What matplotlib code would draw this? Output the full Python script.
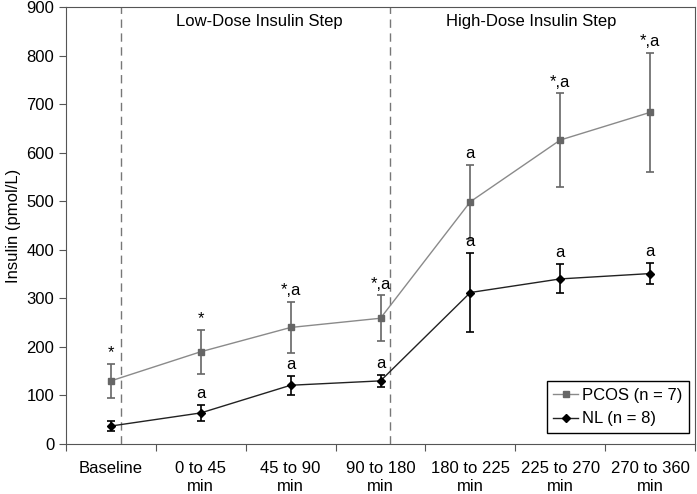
import matplotlib
matplotlib.use("Agg")
import matplotlib.pyplot as plt
from matplotlib.lines import Line2D
import numpy as np

plt.rcParams["font.family"] = ["Liberation Sans", "DejaVu Sans"]

categories = ["Baseline", "0 to 45\nmin", "45 to 90\nmin", "90 to 180\nmin",
              "180 to 225\nmin", "225 to 270\nmin", "270 to 360\nmin"]
pcos_mean = [130, 190, 240, 259, 499, 626, 683]
pcos_err = [35, 45, 53, 47, 76, 96, 123]
nl_mean = [37, 64, 121, 130, 312, 340, 351]
nl_err = [11, 16, 20, 12, 82, 30, 22]
pcos_marks = ["*", "*", "*,a", "*,a", "a", "*,a", "*,a"]
nl_marks = ["", "a", "a", "a", "a", "a", "a"]
step_lines = [0.11, 3.11]

x = np.arange(len(categories))

fig = plt.figure(figsize=(6.97, 4.94), dpi=100)
ax = fig.add_axes([66 / 697, 50 / 494, 629 / 697, 437 / 494])

ax.errorbar(x, pcos_mean, yerr=pcos_err, color="#8a8a8a", lw=1.0,
            marker="s", ms=5, mfc="#666666", mec="#666666",
            ecolor="#666666", elinewidth=1.2, capsize=3, capthick=1.2,
            zorder=3)
ax.errorbar(x, nl_mean, yerr=nl_err, color="#222222", lw=1.0,
            marker="D", ms=4.5, mfc="black", mec="black",
            ecolor="black", elinewidth=1.2, capsize=3, capthick=1.2,
            zorder=4)

for i in x:
    top = pcos_mean[i] + pcos_err[i]
    ax.text(i, top + 8, pcos_marks[i], ha="center", va="bottom", fontsize=12)
    if nl_marks[i]:
        top = nl_mean[i] + nl_err[i]
        ax.text(i, top + 8, nl_marks[i], ha="center", va="bottom", fontsize=12)

for s in step_lines:
    ax.axvline(s, color="#777777", lw=1.0, ls=(0, (6, 4)), zorder=1)

ax.text(1.65, 870, "Low-Dose Insulin Step", ha="center", va="center", fontsize=12)
ax.text(4.68, 870, "High-Dose Insulin Step", ha="center", va="center", fontsize=12)

ax.set_xlim(-0.5, 6.5)
ax.set_ylim(0, 900)
ax.set_yticks(range(0, 901, 100))
ax.set_xticks(np.arange(-0.5, 7, 1))
ax.set_xticklabels([])
ax.set_xticks(x, minor=True)
ax.set_xticklabels(categories, minor=True, fontsize=12, linespacing=1.3)
ax.tick_params(axis="x", which="minor", length=0, pad=12)
ax.tick_params(axis="x", which="major", length=5, color="#555555")
ax.tick_params(axis="y", length=5, color="#555555", labelsize=12)
ax.set_ylabel("Insulin (pmol/L)", fontsize=12)
for sp in ax.spines.values():
    sp.set_color("#555555")

handles = [
    Line2D([], [], color="#8a8a8a", lw=1.0, marker="s", ms=5,
           mfc="#666666", mec="#666666"),
    Line2D([], [], color="#222222", lw=1.0, marker="D", ms=4.5,
           mfc="black", mec="black"),
]
leg = ax.legend(handles, ["PCOS (n = 7)", "NL (n = 8)"], loc="lower right",
                bbox_to_anchor=(0.99, 0.025), fontsize=12,
                fancybox=False, framealpha=1, edgecolor="black",
                handlelength=1.5, handletextpad=0.2, borderpad=0.4,
                borderaxespad=0, labelspacing=0.5)
leg.get_frame().set_linewidth(1.0)

fig.savefig("out.png", dpi=100)
